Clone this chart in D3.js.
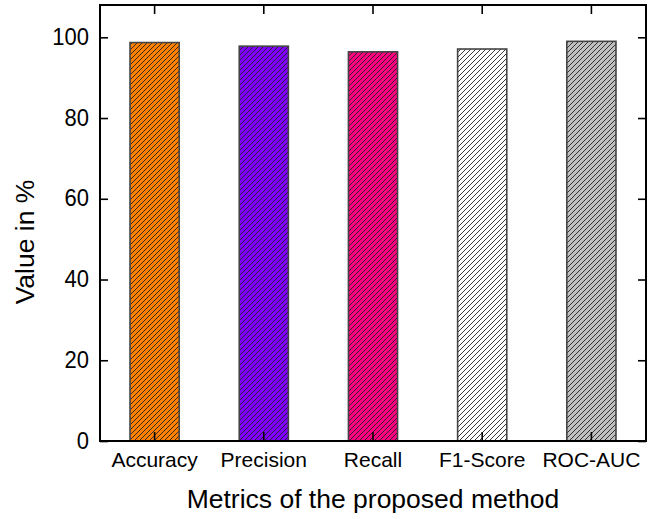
<!DOCTYPE html>
<html>
<head>
<meta charset="utf-8">
<script src="https://cdn.jsdelivr.net/npm/d3@7"></script>
<style>
  body { margin: 0; background: #fff; }
  text { font-family: "Liberation Sans", Arial, sans-serif; }
</style>
</head>
<body>
<div id="chart"></div>
<script>
let metrics = ['Accuracy', 'Precision', 'Recall', 'F1-Score', 'ROC-AUC'];
let values = [98.7, 97.8, 96.4, 97.1, 99.0];
let barColors = ['#ff8000', '#8000ff', '#ff0080', '#ffffff', '#c0c0c0'];
let yTicks = [0, 20, 40, 60, 80, 100];

let svgWidth = 660;
let svgHeight = 519;
let margin = { top: 5, right: 14, bottom: 78, left: 100 };
let width = svgWidth - margin.left - margin.right;
let height = svgHeight - margin.top - margin.bottom;

let svg = d3.select('#chart').append('svg')
    .attr('width', svgWidth)
    .attr('height', svgHeight);

// hatch patterns, one per bar colour
let defs = svg.append('defs');
barColors.forEach(function (c, i) {
    let p = defs.append('pattern')
        .attr('id', 'hatch' + i)
        .attr('patternUnits', 'userSpaceOnUse')
        .attr('width', 5)
        .attr('height', 5);
    p.append('rect').attr('width', 5).attr('height', 5).attr('fill', c);
    p.append('path')
        .attr('d', 'M-1,1 l2,-2 M0,5 l5,-5 M4,6 l2,-2')
        .attr('stroke', '#222')
        .attr('stroke-width', 0.9);
});

let g = svg.append('g').attr('transform', 'translate(' + margin.left + ',' + margin.top + ')');

let x = d3.scaleBand()
    .domain(metrics)
    .range([0, width])
    .paddingInner(0.55)
    .paddingOuter(0.275);

let y = d3.scaleLinear()
    .domain([0, 108])
    .range([height, 0]);

g.selectAll('.bar')
    .data(metrics)
    .enter().append('rect')
    .attr('class', 'bar')
    .attr('x', function (d) { return x(d); })
    .attr('y', function (d, i) { return y(values[i]); })
    .attr('width', x.bandwidth())
    .attr('height', function (d, i) { return height - y(values[i]); })
    .attr('fill', function (d, i) { return 'url(#hatch' + i + ')'; })
    .attr('stroke', '#444')
    .attr('stroke-width', 1.6);

// axes, ticks pointing inward on all four sides
let bottomAxis = d3.axisBottom(x).tickSizeInner(-9).tickSizeOuter(0).tickPadding(11);
let topAxis = d3.axisTop(x).tickSizeInner(-9).tickSizeOuter(0).tickFormat('');
let leftAxis = d3.axisLeft(y).tickValues(yTicks).tickSizeInner(-8).tickSizeOuter(0).tickPadding(11);
let rightAxis = d3.axisRight(y).tickValues(yTicks).tickSizeInner(-8).tickSizeOuter(0).tickFormat('');

function styleAxis(sel, size) {
    sel.select('.domain').remove();
    sel.selectAll('.tick line').attr('stroke', '#000').attr('stroke-width', 1.6);
    sel.selectAll('.tick text').attr('fill', '#000').style('font-size', size + 'px')
        .style('font-family', '"Liberation Sans", Arial, sans-serif');
}

g.append('g').attr('transform', 'translate(0,' + height + ')').call(bottomAxis).call(styleAxis, 21);
g.append('g').call(topAxis).call(styleAxis, 21);
let yAxisG = g.append('g').call(leftAxis).call(styleAxis, 22);
// y numbers look a little taller than wide in the original
yAxisG.selectAll('.tick text').attr('transform', 'scale(1,1.12)').attr('dy', '0.29em');
g.append('g').attr('transform', 'translate(' + width + ',0)').call(rightAxis).call(styleAxis, 22);

g.append('rect')
    .attr('width', width)
    .attr('height', height)
    .attr('fill', 'none')
    .attr('stroke', '#000')
    .attr('stroke-width', 2);

svg.append('text')
    .attr('x', margin.left + width / 2)
    .attr('y', 508)
    .attr('text-anchor', 'middle')
    .style('font-size', '26.5px')
    .text('Metrics of the proposed method');

svg.append('text')
    .attr('transform', 'translate(34,' + (margin.top + 237) + ') rotate(-90)')
    .attr('text-anchor', 'middle')
    .style('font-size', '26.5px')
    .text('Value in %');
</script>
</body>
</html>
